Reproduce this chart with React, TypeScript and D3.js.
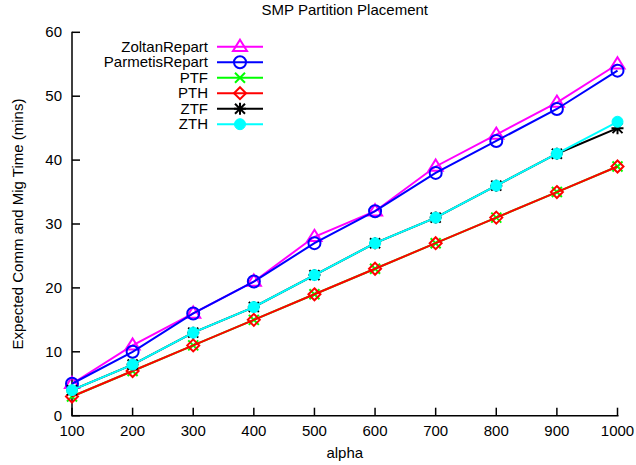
import React from "react";
import * as d3 from "d3";

const alphas = [100, 200, 300, 400, 500, 600, 700, 800, 900, 1000];
const zoltanRepart = [5, 11, 16, 21, 28, 32, 39, 44, 49, 55];
const parmetisRepart = [5, 10, 16, 21, 27, 32, 38, 43, 48, 54];
const ptf = [3, 7, 11, 15, 19, 23, 27, 31, 35, 39];
const pth = [3, 7, 11, 15, 19, 23, 27, 31, 35, 39];
const ztf = [4, 8, 13, 17, 22, 27, 31, 36, 41, 45];
const zth = [4, 8, 13, 17, 22, 27, 31, 36, 41, 46];
const xTicks = [100, 200, 300, 400, 500, 600, 700, 800, 900, 1000];
const yTicks = [0, 10, 20, 30, 40, 50, 60];

const seriesNames = ["ZoltanRepart", "ParmetisRepart", "PTF", "PTH", "ZTF", "ZTH"];
const seriesValues = [zoltanRepart, parmetisRepart, ptf, pth, ztf, zth];
const seriesColors = ["#ff00ff", "#0000ff", "#00ff00", "#ff0000", "#000000", "#00ffff"];
const seriesMarkers = ["triangle", "circle", "x", "diamond", "star", "dot"];

const W = 636;
const H = 465;
const left = 72;
const right = 617.5;
const top = 32.3;
const bottom = 415.7;
const font = "'Liberation Sans', Arial, Helvetica, sans-serif";
const fs = 15;

function Marker({ kind, x, y, color }: { kind: string; x: number; y: number; color: string }) {
  const sw = 2;
  if (kind === "triangle") {
    const s = 7;
    return (
      <path
        d={`M${x},${y - s} L${x + s},${y + s * 0.6} L${x - s},${y + s * 0.6} Z`}
        fill="none"
        stroke={color}
        strokeWidth={sw}
      />
    );
  }
  if (kind === "circle") {
    return <circle cx={x} cy={y} r={6} fill="none" stroke={color} strokeWidth={sw} />;
  }
  if (kind === "x") {
    const s = 5;
    return (
      <path
        d={`M${x - s},${y - s} L${x + s},${y + s} M${x - s},${y + s} L${x + s},${y - s}`}
        stroke={color}
        strokeWidth={sw}
      />
    );
  }
  if (kind === "diamond") {
    const s = 6;
    return (
      <path
        d={`M${x},${y - s} L${x + s},${y} L${x},${y + s} L${x - s},${y} Z`}
        fill="none"
        stroke={color}
        strokeWidth={sw}
      />
    );
  }
  if (kind === "star") {
    const s = 5;
    return (
      <path
        d={`M${x - s},${y - s} L${x + s},${y + s} M${x - s},${y + s} L${x + s},${y - s} M${x - s - 1},${y} L${x + s + 1},${y} M${x},${y - s - 1} L${x},${y + s + 1}`}
        stroke={color}
        strokeWidth={sw}
      />
    );
  }
  return <circle cx={x} cy={y} r={5.5} fill={color} stroke={color} strokeWidth={1} />;
}

export default function App() {
  const x = d3.scaleLinear().domain([100, 1000]).range([left, right]);
  const y = d3.scaleLinear().domain([0, 60]).range([bottom, top]);
  const line = d3
    .line<number>()
    .x((_, i) => x(alphas[i]))
    .y((d) => y(d));

  const legendTextX = 208;
  const legendLineX0 = 217;
  const legendLineX1 = 263;
  const legendY0 = 46.7;
  const legendDy = 15.5;

  return (
    <svg width={W} height={H} style={{ position: "absolute", left: 0, top: 0, background: "#fff" }}>
      <rect x={0} y={0} width={W} height={H} fill="#fff" />
      <text x={(left + right) / 2} y={15} textAnchor="middle" fontFamily={font} fontSize={fs} fill="#000">
        SMP Partition Placement
      </text>

      {/* axes */}
      <path d={`M${left},${top - 0.5} L${left},${bottom} L${right + 1},${bottom}`} fill="none" stroke="#000" strokeWidth={1.5} />
      {yTicks.map((t) => (
        <g key={"y" + t}>
          <line x1={left} x2={left + 8} y1={y(t)} y2={y(t)} stroke="#000" strokeWidth={1.5} />
          <text x={62} y={y(t) + 5} textAnchor="end" fontFamily={font} fontSize={fs} fill="#000">
            {t}
          </text>
        </g>
      ))}
      {xTicks.map((t) => (
        <g key={"x" + t}>
          <line x1={x(t)} x2={x(t)} y1={bottom} y2={bottom - 8} stroke="#000" strokeWidth={1.5} />
          <text x={x(t)} y={436} textAnchor="middle" fontFamily={font} fontSize={fs} fill="#000">
            {t}
          </text>
        </g>
      ))}
      <text x={(left + right) / 2} y={458} textAnchor="middle" fontFamily={font} fontSize={fs} fill="#000">
        alpha
      </text>
      <text
        transform={`translate(23,${(top + bottom) / 2}) rotate(-90)`}
        textAnchor="middle"
        fontFamily={font}
        fontSize={fs}
        fill="#000"
      >
        Expected Comm and Mig Time (mins)
      </text>

      {/* series */}
      {seriesValues.map((vals, si) => (
        <g key={seriesNames[si]}>
          <path d={line(vals) || ""} fill="none" stroke={seriesColors[si]} strokeWidth={2} />
          {vals.map((v, i) => (
            <Marker key={i} kind={seriesMarkers[si]} x={x(alphas[i])} y={y(v)} color={seriesColors[si]} />
          ))}
        </g>
      ))}

      {/* legend */}
      {seriesNames.map((name, si) => {
        const ly = legendY0 + si * legendDy;
        return (
          <g key={"leg" + name}>
            <text x={legendTextX} y={ly + 5} textAnchor="end" fontFamily={font} fontSize={fs} fill="#000">
              {name}
            </text>
            <line x1={legendLineX0} x2={legendLineX1} y1={ly} y2={ly} stroke={seriesColors[si]} strokeWidth={2} />
            <Marker kind={seriesMarkers[si]} x={(legendLineX0 + legendLineX1) / 2} y={ly} color={seriesColors[si]} />
          </g>
        );
      })}
    </svg>
  );
}
